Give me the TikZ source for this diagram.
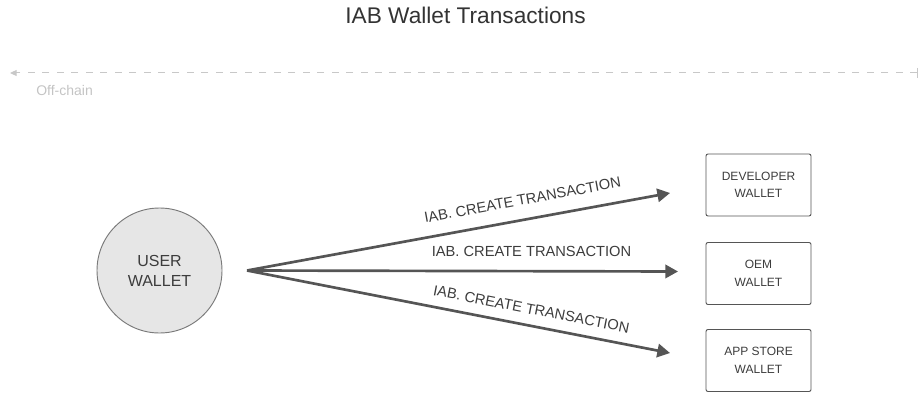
\documentclass[tikz,border=0pt]{standalone}
\usepackage{fontspec}
\setmainfont{Liberation Sans}
\usetikzlibrary{arrows.meta}
\definecolor{inkdark}{HTML}{333333}
\definecolor{inktext}{HTML}{3C3C3C}
\definecolor{inkline}{HTML}{555555}
\definecolor{ringgray}{HTML}{7A7A7A}
\definecolor{discfill}{HTML}{E6E6E6}
\definecolor{paleline}{HTML}{C8C8C8}
\definecolor{paletext}{HTML}{C4C4C4}
\tikzset{
  walletdisc/.style={circle, draw=ringgray, line width=0.7pt, fill=discfill,
    minimum size=93.75pt, inner sep=0pt, text=inktext, align=center,
    font=\fontsize{12}{15}\selectfont},
  walletbox/.style={rectangle, rounded corners=1.5pt, draw=inkline, line width=0.7pt,
    minimum width=78.75pt, minimum height=46.5pt, inner sep=0pt, text=inktext,
    align=center, font=\fontsize{9}{13.2}\selectfont},
  txarrow/.style={draw=inkline, line width=2pt,
    -{Triangle[length=9.5pt,width=10pt]}},
  txlabel/.style={sloped, inner sep=0pt, anchor=south, text=inktext,
    font=\fontsize{11}{13}\selectfont},
  boundary/.style={draw=paleline, line width=0.75pt, dash pattern=on 5.25pt off 5.6pt,
    {Bar[width=7.5pt]}-{Triangle[length=5pt,width=4.5pt]}},
}
\begin{document}
\begin{tikzpicture}[x=0.75pt, y=-0.75pt]
  \useasboundingbox (0,0) rectangle (919,392);

  % heading
  \node[anchor=base, text=inkdark, font=\fontsize{17}{20}\selectfont] (title)
    at (465.5,24) {IAB Wallet Transactions};

  % on-chain / off-chain boundary
  \coordinate (edgeR) at (918,73);
  \coordinate (edgeL) at (10,73);
  \draw[boundary] (edgeR) -- (edgeL);
  \node[anchor=base west, inner sep=0pt, text=paletext,
        font=\fontsize{10.5}{12}\selectfont] (offchain) at (36,95.7) {Off-chain};

  % wallets
  \node[walletdisc] (user) at (159.5,270.5) {USER\\WALLET};
  \node[walletbox] (dev) at (758.5,185) {DEVELOPER\\WALLET};
  \node[walletbox] (oem) at (758.5,273.5) {OEM\\WALLET};
  \node[walletbox] (store) at (758.5,360.5) {APP STORE\\WALLET};

  % transfer arrows
  \coordinate (src) at (247,270.5);
  \coordinate (toDev) at (670,193);
  \coordinate (toOem) at (678,271.5);
  \coordinate (toStore) at (670,353);

  \draw[txarrow] (src) -- (toDev)
    node[txlabel, pos=0.66, above=10pt] {IAB. CREATE TRANSACTION};
  \draw[txarrow] (src) -- (toOem)
    node[txlabel, pos=0.66, above=10pt] {IAB. CREATE TRANSACTION};
  \draw[txarrow] (src) -- (toStore)
    node[txlabel, pos=0.665, above=7.5pt] {IAB. CREATE TRANSACTION};
\end{tikzpicture}
\end{document}
